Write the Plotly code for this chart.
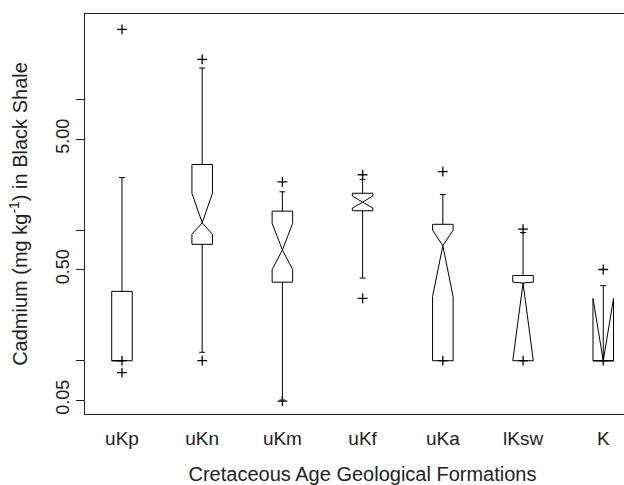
import plotly.graph_objects as go
import numpy as np

# ---- data ----
formations = ["uKp", "uKn", "uKm", "uKf", "uKa", "lKsw", "K"]
q1 = [0.10, 0.78, 0.40, 1.41, 0.10, 0.10, 0.10]
median = [0.10, 1.14, 0.705, 1.64, 0.76, 0.394, 0.10]
q3 = [0.34, 3.19, 1.40, 1.92, 1.11, 0.45, 0.10]
notch_low = [0.10, 0.93, 0.50, 1.48, 0.31, 0.10, 0.10]
notch_high = [0.10, 1.92, 1.13, 1.83, 1.00, 0.40, 0.30]
whisker_low = [0.10, 0.116, 0.05, 0.43, 0.10, 0.10, 0.10]
whisker_high = [2.53, 17.5, 1.97, 2.45, 1.88, 0.96, 0.376]
outliers = [
    [34.6, 0.081, 0.10],
    [20.4, 0.10],
    [2.35, 0.049],
    [2.66, 0.30],
    [2.81, 0.10],
    [1.02, 0.10],
    [0.50, 0.10],
]
ytick_vals = [0.05, 0.5, 5]
ytick_text = ["0.05", "0.50", "5.00"]
ytick_minor = [0.1, 1, 10]

# ---- style ----
half_w = 0.128
cap_w = 0.037
line = dict(color="black", width=1)
regular = "Arial, Liberation Sans, sans-serif"

fig = go.Figure()
for i, name in enumerate(formations):
    xc = i + 1
    xl, xr = xc - half_w, xc + half_w
    bx = [xl, xl, xc, xl, xl, xr, xr, xc, xr, xr, xl]
    by = [q1[i], notch_low[i], median[i], notch_high[i], q3[i],
          q3[i], notch_high[i], median[i], notch_low[i], q1[i], q1[i]]
    fig.add_trace(go.Scatter(x=bx, y=by, mode="lines", line=line,
                             hoverinfo="skip", showlegend=False))
    wx = [xc, xc, None, xc - cap_w, xc + cap_w, None,
          xc, xc, None, xc - cap_w, xc + cap_w]
    wy = [q3[i], whisker_high[i], None, whisker_high[i], whisker_high[i], None,
          q1[i], whisker_low[i], None, whisker_low[i], whisker_low[i]]
    fig.add_trace(go.Scatter(x=wx, y=wy, mode="lines", line=line,
                             hoverinfo="skip", showlegend=False))
    fig.add_trace(go.Scatter(x=[xc] * len(outliers[i]), y=outliers[i],
                             mode="markers", showlegend=False,
                             marker=dict(symbol="cross-thin", size=7,
                                         line=dict(color="black", width=1.3))))

# The reference plot panel runs past the right edge of the 624 px view.
fig.update_layout(
    width=640, height=485,
    margin=dict(l=85, r=0, t=14, b=71, autoexpand=False),
    plot_bgcolor="white", paper_bgcolor="white",
    font=dict(family=regular, size=17, color="#222"),
)
fig.update_xaxes(
    range=[0.539, 7.458], tickvals=list(range(1, len(formations) + 1)),
    ticktext=formations, showgrid=False, zeroline=False, automargin=False,
    showline=True, linecolor="#222", linewidth=1, mirror=True,
    ticks="", ticklabelstandoff=7,
    tickfont=dict(family=regular, size=19),
    title=dict(text="Cretaceous Age Geological Formations", standoff=23,
               font=dict(family=regular, size=20)),
)
fig.update_yaxes(
    type="log", range=[-1.4083, 1.6568], automargin=False,
    tickvals=ytick_vals, ticktext=ytick_text, tickangle=-90,
    tickfont=dict(family=regular, size=18),
    showgrid=False, zeroline=False, showline=True, linecolor="#222",
    linewidth=1, ticks="outside", ticklen=8, tickcolor="#222",
    minor=dict(tickvals=ytick_minor, ticks="outside", ticklen=8,
               tickcolor="#222", showgrid=False),
    title=dict(text="Cadmium (mg kg<sup>-1</sup>) in Black Shale", standoff=19,
               font=dict(family=regular, size=20)),
)
fig.write_html("out.html", config={"displayModeBar": False},
               post_script="document.body.style.margin='0';document.body.style.overflow='hidden';")
